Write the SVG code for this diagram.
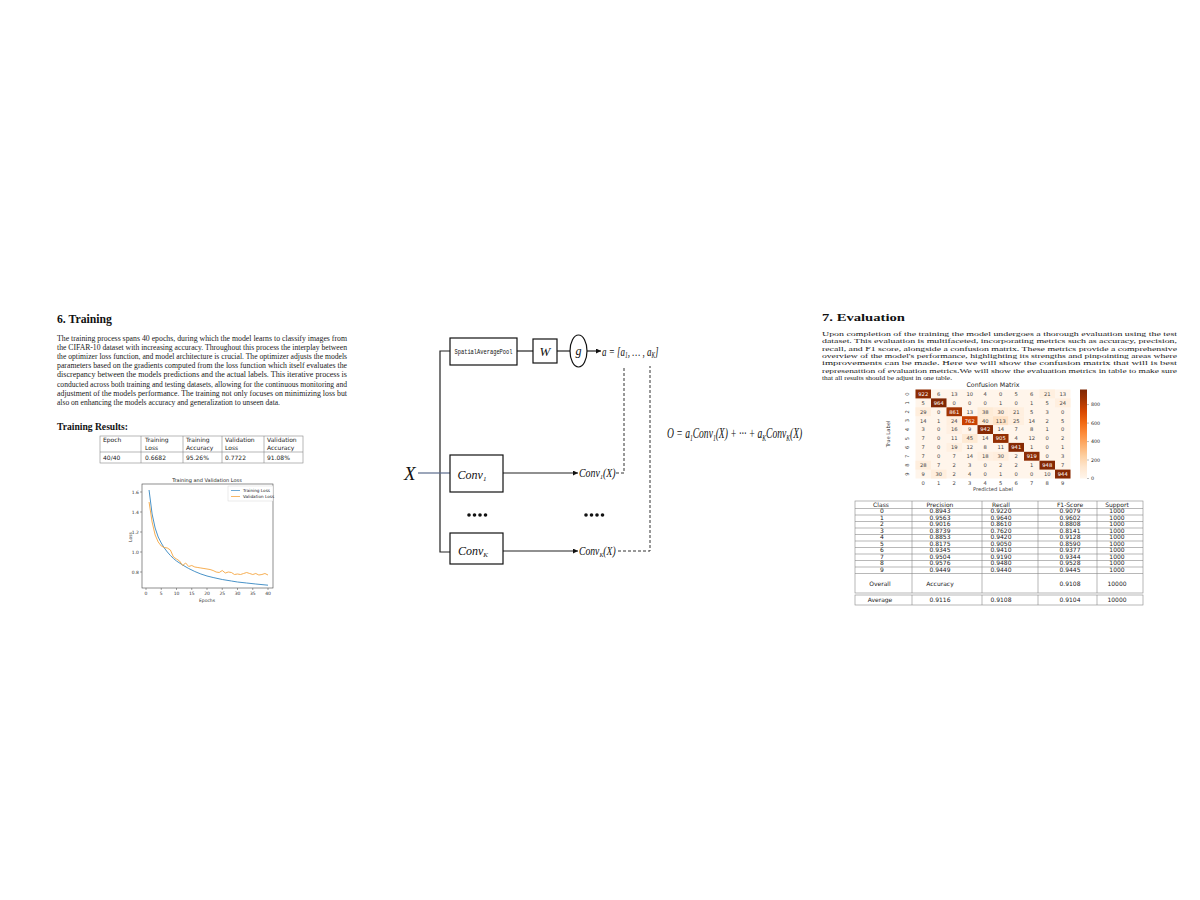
<svg xmlns="http://www.w3.org/2000/svg" width="1200" height="900" viewBox="0 0 1200 900">
<style>
.p{font-family:"Liberation Serif",serif;fill:#1a1a1a}
.b{font-family:"Liberation Serif",serif;font-weight:bold;fill:#111}
.m{font-family:"Liberation Serif",serif;font-style:italic;fill:#111}
.s{font-family:"DejaVu Sans",sans-serif;fill:#222}
.ln{stroke:#222;stroke-width:1.2;fill:none}
.dash{stroke:#333;stroke-width:1;fill:none;stroke-dasharray:3 2}
.box{fill:#fff;stroke:#111;stroke-width:1.2}
.grid{stroke:#888;stroke-width:0.6;fill:none}
.cm{font-family:"DejaVu Sans",sans-serif;font-size:5.2px;fill:#444;text-anchor:middle}
.cw{fill:#fff}
.tick{font-family:"DejaVu Sans",sans-serif;font-size:4.5px;fill:#333}
</style>
<defs>
<marker id="arr" viewBox="0 0 6 6" refX="6" refY="3" markerWidth="5" markerHeight="5" orient="auto" markerUnits="userSpaceOnUse"><path d="M0,0 L6,3 L0,6 Z" fill="#111"/></marker>
<linearGradient id="cbar" x1="0" y1="0" x2="0" y2="1">
<stop offset="0" stop-color="#7f2704"/><stop offset="0.12" stop-color="#a63603"/><stop offset="0.25" stop-color="#d94801"/><stop offset="0.37" stop-color="#f16913"/><stop offset="0.5" stop-color="#fd8d3c"/><stop offset="0.62" stop-color="#fdae6b"/><stop offset="0.75" stop-color="#fdd0a2"/><stop offset="0.87" stop-color="#fee6ce"/><stop offset="1" stop-color="#fff5eb"/>
</linearGradient>
</defs>
<rect width="1200" height="900" fill="#fff"/>

<!-- Left: Training section -->
<g id="training-text">
<text class="b" x="57" y="322.5" font-size="11.5" textLength="55" lengthAdjust="spacingAndGlyphs">6.  Training</text>
<g class="p" font-size="7.3">
<text x="57" y="340.5" textLength="290" lengthAdjust="spacingAndGlyphs">The training process spans 40 epochs, during which the model learns to classify images from</text>
<text x="57" y="349.7" textLength="290" lengthAdjust="spacingAndGlyphs">the CIFAR-10 dataset with increasing accuracy. Throughout this process the interplay between</text>
<text x="57" y="358.9" textLength="290" lengthAdjust="spacingAndGlyphs">the optimizer loss function, and model architecture is crucial. The optimizer adjusts the models</text>
<text x="57" y="368.1" textLength="290" lengthAdjust="spacingAndGlyphs">parameters based on the gradients computed from the loss function which itself evaluates the</text>
<text x="57" y="377.3" textLength="290" lengthAdjust="spacingAndGlyphs">discrepancy between the models predictions and the actual labels. This iterative process is</text>
<text x="57" y="386.5" textLength="290" lengthAdjust="spacingAndGlyphs">conducted across both training and testing datasets, allowing for the continuous monitoring and</text>
<text x="57" y="395.7" textLength="290" lengthAdjust="spacingAndGlyphs">adjustment of the models performance. The training not only focuses on minimizing loss but</text>
<text x="57" y="404.9" textLength="223" lengthAdjust="spacingAndGlyphs">also on enhancing the models accuracy and generalization to unseen data.</text>
</g>
<text class="b" x="57" y="430" font-size="9.5" textLength="71" lengthAdjust="spacingAndGlyphs">Training Results:</text>
</g>

<g id="training-table">
<rect class="grid" x="100" y="436" width="203" height="27" stroke="#777"/>
<line class="grid" x1="100" y1="452" x2="303" y2="452"/>
<line class="grid" x1="141" y1="436" x2="141" y2="463"/>
<line class="grid" x1="183" y1="436" x2="183" y2="463"/>
<line class="grid" x1="222" y1="436" x2="222" y2="463"/>
<line class="grid" x1="264" y1="436" x2="264" y2="463"/>
<g class="s" font-size="6">
<text x="103" y="442">Epoch</text>
<text x="145" y="442">Training</text><text x="145" y="450">Loss</text>
<text x="186" y="442">Training</text><text x="186" y="450">Accuracy</text>
<text x="225" y="442">Validation</text><text x="225" y="450">Loss</text>
<text x="267" y="442">Validation</text><text x="267" y="450">Accuracy</text>
<text x="103" y="460">40/40</text>
<text x="145" y="460">0.6682</text>
<text x="186" y="460">95.26%</text>
<text x="225" y="460">0.7722</text>
<text x="267" y="460">91.08%</text>
</g>
</g>

<g id="loss-chart">
<text class="s" x="207" y="481.5" font-size="5" text-anchor="middle">Training and Validation Loss</text>
<rect x="142" y="484" width="131" height="104" fill="none" stroke="#444" stroke-width="0.6"/>
<g stroke="#444" stroke-width="0.5">
<line x1="146" y1="588" x2="146" y2="590"/><line x1="161.25" y1="588" x2="161.25" y2="590"/><line x1="176.5" y1="588" x2="176.5" y2="590"/><line x1="191.75" y1="588" x2="191.75" y2="590"/><line x1="207" y1="588" x2="207" y2="590"/><line x1="222.25" y1="588" x2="222.25" y2="590"/><line x1="237.5" y1="588" x2="237.5" y2="590"/><line x1="252.75" y1="588" x2="252.75" y2="590"/><line x1="268" y1="588" x2="268" y2="590"/>
<line x1="140" y1="492" x2="142" y2="492"/><line x1="140" y1="512" x2="142" y2="512"/><line x1="140" y1="532" x2="142" y2="532"/><line x1="140" y1="552" x2="142" y2="552"/><line x1="140" y1="572" x2="142" y2="572"/>
</g>
<g class="tick" text-anchor="middle">
<text x="146" y="595">0</text><text x="161.25" y="595">5</text><text x="176.5" y="595">10</text><text x="191.75" y="595">15</text><text x="207" y="595">20</text><text x="222.25" y="595">25</text><text x="237.5" y="595">30</text><text x="252.75" y="595">35</text><text x="268" y="595">40</text>
<text x="207" y="601.5">Epochs</text>
</g>
<g class="tick" text-anchor="end">
<text x="139" y="493.5">1.6</text><text x="139" y="513.5">1.4</text><text x="139" y="533.5">1.2</text><text x="139" y="553.5">1.0</text><text x="139" y="573.5">0.8</text>
</g>
<text class="tick" transform="translate(131.5,537) rotate(-90)" text-anchor="middle">Loss</text>
<polyline fill="none" stroke="#4a93c8" stroke-width="1" points="149.05,490 152.1,514 155.15,528 158.2,537 161.25,543 164.3,548 167.35,552 170.4,555.5 173.45,558.5 176.5,561 182.6,565 188.7,568.5 194.8,571.5 200.9,574 207,576 213.1,577.5 222.25,579.5 231.4,581 237.5,582 246.65,583 255.8,584 268,585.2"/>
<polyline fill="none" stroke="#f5a540" stroke-width="0.9" points="149.05,502 152.1,522 155.15,535 158.2,542 161.25,546 164.3,547.5 167.35,548 170.4,550 173.45,557 176.5,559 179.55,561 182.6,565.5 185.65,563 188.7,566.5 191.75,565.5 194.8,567 197.85,567.5 200.9,568 203.95,568.5 207,569 210.05,569.5 213.1,570.5 216.15,572 219.2,572.5 222.25,570.5 225.3,573 228.35,572 231.4,572.5 234.45,574.5 237.5,574 240.55,574.5 243.6,573.5 246.65,572.5 249.7,573.5 252.75,574.5 255.8,573.5 258.85,575 261.9,574.5 264.95,573.5 268,575"/>
<rect x="228" y="486" width="45" height="15" fill="#fff" stroke="#ccc" stroke-width="0.4"/>
<line x1="231" y1="490.5" x2="240" y2="490.5" stroke="#4a93c8" stroke-width="0.8"/>
<line x1="231" y1="496.5" x2="240" y2="496.5" stroke="#f5a540" stroke-width="0.8"/>
<text class="s" x="243" y="492" font-size="4.2">Training Loss</text>
<text class="s" x="243" y="498" font-size="4.2">Validation Loss</text>
</g>

<!-- Middle: attention diagram -->
<g id="connectors">
<polyline class="ln" points="450,351 440,351 440,552 450,552"/>
<line x1="418" y1="473" x2="450" y2="473" stroke="#5a6b8c" stroke-width="1.2"/>
<line class="ln" x1="517" y1="351" x2="533" y2="351"/>
<line class="ln" x1="557" y1="351" x2="570" y2="351"/>
<line class="ln" x1="587" y1="351" x2="601" y2="351" marker-end="url(#arr)"/>
<line class="ln" x1="503" y1="473" x2="578" y2="473" marker-end="url(#arr)"/>
<line class="ln" x1="503" y1="551" x2="578" y2="551" marker-end="url(#arr)"/>
<polyline class="dash" points="616,473 624,473 624,366"/>
<polyline class="dash" points="618,551 650,551 650,366"/>
</g>
<g id="node-X"><text class="m" x="404" y="480" font-size="19">X</text></g>
<g id="node-pool">
<rect class="box" x="450" y="338" width="67" height="27"/>
<text x="483.5" y="354" font-family="Liberation Mono, monospace" font-size="7.5" text-anchor="middle" fill="#111" textLength="58" lengthAdjust="spacingAndGlyphs">SpatialAveragePool</text>
</g>
<g id="node-W">
<rect class="box" x="533" y="339" width="24" height="24"/>
<text class="m" x="545" y="356" font-size="13" text-anchor="middle">W</text>
</g>
<g id="node-g">
<ellipse cx="578.5" cy="351" rx="8.5" ry="16" fill="#fff" stroke="#111" stroke-width="1.2"/>
<text class="m" x="578.5" y="354.5" font-size="12" text-anchor="middle">g</text>
</g>
<g id="node-a">
<text class="m" font-size="12.5" transform="translate(602,355.5) scale(0.72,1)">a = [a<tspan font-size="7.5" dy="2.5">1</tspan><tspan dy="-2.5">, … , a</tspan><tspan font-size="7.5" dy="2.5">K</tspan><tspan dy="-2.5">]</tspan></text>
</g>
<g id="node-conv1">
<rect class="box" x="450" y="455" width="53" height="37"/>
<text class="m" x="472" y="479" font-size="12" text-anchor="middle">Conv<tspan font-size="7" dy="2">1</tspan></text>
</g>
<g id="node-convK">
<rect class="box" x="450" y="533" width="53" height="31"/>
<text class="m" x="473" y="555" font-size="12" text-anchor="middle">Conv<tspan font-size="7" dy="2">K</tspan></text>
</g>
<g id="node-conv1X">
<text class="m" font-size="11.5" transform="translate(579,477) scale(0.86,1)">Conv<tspan font-size="7" dy="2">1</tspan><tspan dy="-2">(X)</tspan></text>
</g>
<g id="node-convKX">
<text class="m" font-size="11.5" transform="translate(579,555) scale(0.84,1)">Conv<tspan font-size="7" dy="2">K</tspan><tspan dy="-2">(X)</tspan></text>
</g>
<g id="dots" fill="#111">
<circle cx="469" cy="515" r="1.8"/><circle cx="474.5" cy="515" r="1.8"/><circle cx="480" cy="515" r="1.8"/><circle cx="485.5" cy="515" r="1.8"/>
<circle cx="586" cy="515" r="1.8"/><circle cx="591.5" cy="515" r="1.8"/><circle cx="597" cy="515" r="1.8"/><circle cx="602.5" cy="515" r="1.8"/>
</g>
<g id="node-formula">
<text class="m" font-size="14.5" transform="translate(667,438) scale(0.66,1)">O = a<tspan font-size="8.5" dy="2.5">1</tspan><tspan dy="-2.5">Conv</tspan><tspan font-size="8.5" dy="2.5">1</tspan><tspan dy="-2.5">(X) + ··· + a</tspan><tspan font-size="8.5" dy="2.5">K</tspan><tspan dy="-2.5">Conv</tspan><tspan font-size="8.5" dy="2.5">K</tspan><tspan dy="-2.5">(X)</tspan></text>
</g>

<!-- Right: Evaluation -->
<g id="evaluation-text">
<text class="b" x="822" y="321" font-size="11" textLength="83" lengthAdjust="spacingAndGlyphs">7.  Evaluation</text>
<g class="p" font-size="6.8">
<text x="822" y="336" textLength="355" lengthAdjust="spacingAndGlyphs">Upon completion of the training the model undergoes a thorough evaluation using the test</text>
<text x="822" y="343.3" textLength="355" lengthAdjust="spacingAndGlyphs">dataset. This evaluation is multifaceted, incorporating metrics such as accuracy, precision,</text>
<text x="822" y="350.6" textLength="355" lengthAdjust="spacingAndGlyphs">recall, and F1 score, alongside a confusion matrix. These metrics provide a comprehensive</text>
<text x="822" y="357.9" textLength="355" lengthAdjust="spacingAndGlyphs">overview of the model's performance, highlighting its strengths and pinpointing areas where</text>
<text x="822" y="365.2" textLength="355" lengthAdjust="spacingAndGlyphs">improvements can be made. Here we will show the confusion matrix that will is best</text>
<text x="822" y="372.5" textLength="355" lengthAdjust="spacingAndGlyphs">represenattion of evaluation metrics.We will show the evaluation metrics in table to make sure</text>
<text x="822" y="379.8" textLength="130" lengthAdjust="spacingAndGlyphs">that all results should be adjust in one table.</text>
</g>
</g>

<g id="confusion-matrix">
<text class="s" x="993" y="387.3" font-size="6.3" text-anchor="middle">Confusion Matrix</text>
<rect x="915.5" y="389.5" width="155" height="89" fill="#fff5eb"/>
<rect x="1039.5" y="389.5" width="15.5" height="8.9" fill="#ffefdf"/>
<rect x="1055" y="398.4" width="15.5" height="8.9" fill="#ffefdf"/>
<rect x="915.5" y="407.3" width="15.5" height="8.9" fill="#ffeedd"/>
<rect x="977.5" y="407.3" width="15.5" height="8.9" fill="#feebd6"/>
<rect x="993" y="407.3" width="15.5" height="8.9" fill="#ffeedd"/>
<rect x="1008.5" y="407.3" width="15.5" height="8.9" fill="#ffefdf"/>
<rect x="946.5" y="416.2" width="15.5" height="8.9" fill="#ffefdf"/>
<rect x="977.5" y="416.2" width="15.5" height="8.9" fill="#feebd6"/>
<rect x="993" y="416.2" width="15.5" height="8.9" fill="#fee2c5"/>
<rect x="1008.5" y="416.2" width="15.5" height="8.9" fill="#ffefdf"/>
<rect x="946.5" y="425.1" width="15.5" height="8.9" fill="#fff0e2"/>
<rect x="962" y="434" width="15.5" height="8.9" fill="#feead4"/>
<rect x="946.5" y="442.9" width="15.5" height="8.9" fill="#fff0e1"/>
<rect x="977.5" y="451.8" width="15.5" height="8.9" fill="#fff0e1"/>
<rect x="993" y="451.8" width="15.5" height="8.9" fill="#ffeedd"/>
<rect x="915.5" y="460.7" width="15.5" height="8.9" fill="#ffeedd"/>
<rect x="931" y="469.6" width="15.5" height="8.9" fill="#ffeedd"/>
<rect x="915.5" y="389.5" width="15.5" height="8.9" fill="#8c2b04"/>
<rect x="931" y="398.4" width="15.5" height="8.9" fill="#7f2704"/>
<rect x="946.5" y="407.3" width="15.5" height="8.9" fill="#a33503"/>
<rect x="962" y="416.2" width="15.5" height="8.9" fill="#c94202"/>
<rect x="977.5" y="425.1" width="15.5" height="8.9" fill="#862904"/>
<rect x="993" y="434" width="15.5" height="8.9" fill="#932f03"/>
<rect x="1008.5" y="442.9" width="15.5" height="8.9" fill="#862904"/>
<rect x="1024" y="451.8" width="15.5" height="8.9" fill="#8d2c04"/>
<rect x="1039.5" y="460.7" width="15.5" height="8.9" fill="#842804"/>
<rect x="1055" y="469.6" width="15.5" height="8.9" fill="#852904"/>
<g class="cm">
<text x="923.25" y="395.8" class="cw">922</text><text x="938.75" y="395.8">6</text><text x="954.25" y="395.8">13</text><text x="969.75" y="395.8">10</text><text x="985.25" y="395.8">4</text><text x="1000.75" y="395.8">0</text><text x="1016.25" y="395.8">5</text><text x="1031.75" y="395.8">6</text><text x="1047.25" y="395.8">21</text><text x="1062.75" y="395.8">13</text>
<text x="923.25" y="404.7">5</text><text x="938.75" y="404.7" class="cw">964</text><text x="954.25" y="404.7">0</text><text x="969.75" y="404.7">0</text><text x="985.25" y="404.7">0</text><text x="1000.75" y="404.7">1</text><text x="1016.25" y="404.7">0</text><text x="1031.75" y="404.7">1</text><text x="1047.25" y="404.7">5</text><text x="1062.75" y="404.7">24</text>
<text x="923.25" y="413.6">29</text><text x="938.75" y="413.6">0</text><text x="954.25" y="413.6" class="cw">861</text><text x="969.75" y="413.6">13</text><text x="985.25" y="413.6">38</text><text x="1000.75" y="413.6">30</text><text x="1016.25" y="413.6">21</text><text x="1031.75" y="413.6">5</text><text x="1047.25" y="413.6">3</text><text x="1062.75" y="413.6">0</text>
<text x="923.25" y="422.5">14</text><text x="938.75" y="422.5">1</text><text x="954.25" y="422.5">24</text><text x="969.75" y="422.5" class="cw">762</text><text x="985.25" y="422.5">40</text><text x="1000.75" y="422.5">113</text><text x="1016.25" y="422.5">25</text><text x="1031.75" y="422.5">14</text><text x="1047.25" y="422.5">2</text><text x="1062.75" y="422.5">5</text>
<text x="923.25" y="431.4">3</text><text x="938.75" y="431.4">0</text><text x="954.25" y="431.4">16</text><text x="969.75" y="431.4">9</text><text x="985.25" y="431.4" class="cw">942</text><text x="1000.75" y="431.4">14</text><text x="1016.25" y="431.4">7</text><text x="1031.75" y="431.4">8</text><text x="1047.25" y="431.4">1</text><text x="1062.75" y="431.4">0</text>
<text x="923.25" y="440.3">7</text><text x="938.75" y="440.3">0</text><text x="954.25" y="440.3">11</text><text x="969.75" y="440.3">45</text><text x="985.25" y="440.3">14</text><text x="1000.75" y="440.3" class="cw">905</text><text x="1016.25" y="440.3">4</text><text x="1031.75" y="440.3">12</text><text x="1047.25" y="440.3">0</text><text x="1062.75" y="440.3">2</text>
<text x="923.25" y="449.2">7</text><text x="938.75" y="449.2">0</text><text x="954.25" y="449.2">19</text><text x="969.75" y="449.2">12</text><text x="985.25" y="449.2">8</text><text x="1000.75" y="449.2">11</text><text x="1016.25" y="449.2" class="cw">941</text><text x="1031.75" y="449.2">1</text><text x="1047.25" y="449.2">0</text><text x="1062.75" y="449.2">1</text>
<text x="923.25" y="458.1">7</text><text x="938.75" y="458.1">0</text><text x="954.25" y="458.1">7</text><text x="969.75" y="458.1">14</text><text x="985.25" y="458.1">18</text><text x="1000.75" y="458.1">30</text><text x="1016.25" y="458.1">2</text><text x="1031.75" y="458.1" class="cw">919</text><text x="1047.25" y="458.1">0</text><text x="1062.75" y="458.1">3</text>
<text x="923.25" y="467">28</text><text x="938.75" y="467">7</text><text x="954.25" y="467">2</text><text x="969.75" y="467">3</text><text x="985.25" y="467">0</text><text x="1000.75" y="467">2</text><text x="1016.25" y="467">2</text><text x="1031.75" y="467">1</text><text x="1047.25" y="467" class="cw">948</text><text x="1062.75" y="467">7</text>
<text x="923.25" y="475.9">9</text><text x="938.75" y="475.9">30</text><text x="954.25" y="475.9">2</text><text x="969.75" y="475.9">4</text><text x="985.25" y="475.9">0</text><text x="1000.75" y="475.9">1</text><text x="1016.25" y="475.9">0</text><text x="1031.75" y="475.9">0</text><text x="1047.25" y="475.9">10</text><text x="1062.75" y="475.9" class="cw">944</text>
<text x="923.25" y="485">0</text><text x="938.75" y="485">1</text><text x="954.25" y="485">2</text><text x="969.75" y="485">3</text><text x="985.25" y="485">4</text><text x="1000.75" y="485">5</text><text x="1016.25" y="485">6</text><text x="1031.75" y="485">7</text><text x="1047.25" y="485">8</text><text x="1062.75" y="485">9</text>
<text x="993" y="491">Predicted Label</text>
<text transform="translate(907.5,394) rotate(-90)" dy="1.8">0</text>
<text transform="translate(907.5,402.9) rotate(-90)" dy="1.8">1</text>
<text transform="translate(907.5,411.8) rotate(-90)" dy="1.8">2</text>
<text transform="translate(907.5,420.7) rotate(-90)" dy="1.8">3</text>
<text transform="translate(907.5,429.6) rotate(-90)" dy="1.8">4</text>
<text transform="translate(907.5,438.5) rotate(-90)" dy="1.8">5</text>
<text transform="translate(907.5,447.4) rotate(-90)" dy="1.8">6</text>
<text transform="translate(907.5,456.3) rotate(-90)" dy="1.8">7</text>
<text transform="translate(907.5,465.2) rotate(-90)" dy="1.8">8</text>
<text transform="translate(907.5,474.1) rotate(-90)" dy="1.8">9</text>
<text transform="translate(888,434) rotate(-90)" dy="1.8">True Label</text>
</g>
<rect x="1080" y="389.5" width="7" height="89" fill="url(#cbar)"/>
<g stroke="#555" stroke-width="0.4">
<line x1="1087" y1="404.6" x2="1089" y2="404.6"/><line x1="1087" y1="423.1" x2="1089" y2="423.1"/><line x1="1087" y1="441.6" x2="1089" y2="441.6"/><line x1="1087" y1="460" x2="1089" y2="460"/><line x1="1087" y1="478.5" x2="1089" y2="478.5"/>
</g>
<g class="s" font-size="4.8">
<text x="1091" y="406.3">800</text><text x="1091" y="424.8">600</text><text x="1091" y="443.3">400</text><text x="1091" y="461.7">200</text><text x="1091" y="480.2">0</text>
</g>
</g>

<g id="metrics-table">
<g class="grid">
<rect x="855" y="501" width="288" height="92"/>
<rect x="855" y="595" width="288" height="10"/>
<line x1="855" y1="508.5" x2="1143" y2="508.5"/>
<line x1="855" y1="515" x2="1143" y2="515"/>
<line x1="855" y1="521.5" x2="1143" y2="521.5"/>
<line x1="855" y1="528" x2="1143" y2="528"/>
<line x1="855" y1="534.5" x2="1143" y2="534.5"/>
<line x1="855" y1="541" x2="1143" y2="541"/>
<line x1="855" y1="547.5" x2="1143" y2="547.5"/>
<line x1="855" y1="554" x2="1143" y2="554"/>
<line x1="855" y1="560.5" x2="1143" y2="560.5"/>
<line x1="855" y1="567" x2="1143" y2="567"/>
<line x1="855" y1="573.5" x2="1143" y2="573.5"/>
<line x1="912" y1="501" x2="912" y2="593"/><line x1="982" y1="501" x2="982" y2="593"/><line x1="1038" y1="501" x2="1038" y2="593"/><line x1="1097" y1="501" x2="1097" y2="593"/>
<line x1="912" y1="595" x2="912" y2="605"/><line x1="982" y1="595" x2="982" y2="605"/><line x1="1038" y1="595" x2="1038" y2="605"/><line x1="1097" y1="595" x2="1097" y2="605"/>
</g>
<g class="s" font-size="6" text-anchor="middle">
<text x="881" y="507">Class</text><text x="940" y="507">Precision</text><text x="1001" y="507">Recall</text><text x="1070" y="507">F1-Score</text><text x="1117" y="507">Support</text>
<text x="882" y="513.4">0</text><text x="940" y="513.4">0.8943</text><text x="1001" y="513.4">0.9220</text><text x="1070" y="513.4">0.9079</text><text x="1117" y="513.4">1000</text>
<text x="882" y="519.9">1</text><text x="940" y="519.9">0.9563</text><text x="1001" y="519.9">0.9640</text><text x="1070" y="519.9">0.9602</text><text x="1117" y="519.9">1000</text>
<text x="882" y="526.4">2</text><text x="940" y="526.4">0.9016</text><text x="1001" y="526.4">0.8610</text><text x="1070" y="526.4">0.8808</text><text x="1117" y="526.4">1000</text>
<text x="882" y="532.9">3</text><text x="940" y="532.9">0.8739</text><text x="1001" y="532.9">0.7620</text><text x="1070" y="532.9">0.8141</text><text x="1117" y="532.9">1000</text>
<text x="882" y="539.4">4</text><text x="940" y="539.4">0.8853</text><text x="1001" y="539.4">0.9420</text><text x="1070" y="539.4">0.9128</text><text x="1117" y="539.4">1000</text>
<text x="882" y="545.9">5</text><text x="940" y="545.9">0.8175</text><text x="1001" y="545.9">0.9050</text><text x="1070" y="545.9">0.8590</text><text x="1117" y="545.9">1000</text>
<text x="882" y="552.4">6</text><text x="940" y="552.4">0.9345</text><text x="1001" y="552.4">0.9410</text><text x="1070" y="552.4">0.9377</text><text x="1117" y="552.4">1000</text>
<text x="882" y="558.9">7</text><text x="940" y="558.9">0.9504</text><text x="1001" y="558.9">0.9190</text><text x="1070" y="558.9">0.9344</text><text x="1117" y="558.9">1000</text>
<text x="882" y="565.4">8</text><text x="940" y="565.4">0.9576</text><text x="1001" y="565.4">0.9480</text><text x="1070" y="565.4">0.9528</text><text x="1117" y="565.4">1000</text>
<text x="882" y="571.9">9</text><text x="940" y="571.9">0.9449</text><text x="1001" y="571.9">0.9440</text><text x="1070" y="571.9">0.9445</text><text x="1117" y="571.9">1000</text>
<text x="880" y="585.5">Overall</text><text x="940" y="585.5">Accuracy</text><text x="1070" y="585.5">0.9108</text><text x="1117" y="585.5">10000</text>
<text x="880" y="602">Average</text><text x="940" y="602">0.9116</text><text x="1001" y="602">0.9108</text><text x="1070" y="602">0.9104</text><text x="1117" y="602">10000</text>
</g>
</g>
</svg>
